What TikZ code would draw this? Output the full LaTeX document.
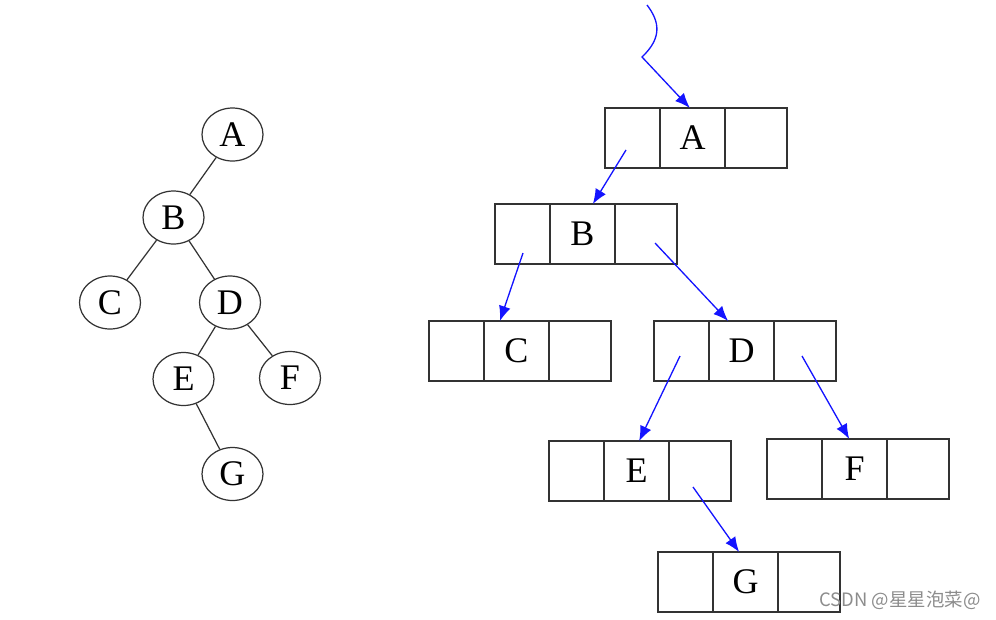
\documentclass[tikz,border=0pt]{standalone}
\usepackage{fontspec}
\setmainfont{Liberation Serif}
\newfontfamily\cjk{Noto Sans CJK SC}
\usetikzlibrary{positioning,shapes.geometric,arrows.meta}
\colorlet{lcol}{black!80}
\definecolor{colBlue}{RGB}{20,20,255}
\tikzstyle{treenode}=[ellipse, draw=lcol, line width=0.7pt, minimum width=1.22cm, minimum height=1.06cm, inner sep=0pt, font=\fontsize{20.5}{24}\selectfont]
\tikzstyle{treeedge}=[line width=0.7pt, lcol]
\tikzstyle{cell}=[rectangle, draw=lcol, line width=0.7pt, minimum height=1.2cm, inner sep=0pt, outer sep=0pt, font=\fontsize{20.5}{24}\selectfont]
\tikzstyle{cellL}=[cell, minimum width=1.1cm]
\tikzstyle{cellM}=[cell, minimum width=1.3cm]
\tikzstyle{cellR}=[cell, minimum width=1.24cm]
\tikzstyle{ptr}=[line width=0.75pt, colBlue, -{Latex[length=3mm, width=2.4mm]}]

\begin{document}
\begin{tikzpicture}[x=0.02cm, y=-0.02cm, node distance=0pt]
			\useasboundingbox (0,0) rectangle (996,619);

			% Tree
			\node[treenode] (tA) at (232.5,134.5) {A};
			\node[treenode] (tB) at (173.5,217.5) {B};
			\node[treenode] (tC) at (110,302.5) {C};
			\node[treenode] (tD) at (230,302.5) {D};
			\node[treenode] (tE) at (183.5,379) {E};
			\node[treenode] (tF) at (290,378) {F};
			\node[treenode] (tG) at (232.5,474) {G};
			\draw[treeedge] (tA)--(tB) (tB)--(tC) (tB)--(tD);
			\draw[treeedge] (tD)--(tE) (tD)--(tF) (tE)--(tG);

			% Linked boxes
			\node[cellM] (bA) at (692.5,138) {A};
			\node[cellL, left=of bA] (bAl) {};
			\node[cellR, right=of bA] (bAr) {};
			\node[cellM] (bB) at (582.5,234) {B};
			\node[cellL, left=of bB] (bBl) {};
			\node[cellR, right=of bB] (bBr) {};
			\node[cellM] (bC) at (516.5,351) {C};
			\node[cellL, left=of bC] (bCl) {};
			\node[cellR, right=of bC] (bCr) {};
			\node[cellM] (bD) at (741.5,351) {D};
			\node[cellL, left=of bD] (bDl) {};
			\node[cellR, right=of bD] (bDr) {};
			\node[cellM] (bE) at (636.5,471) {E};
			\node[cellL, left=of bE] (bEl) {};
			\node[cellR, right=of bE] (bEr) {};
			\node[cellM] (bF) at (854.5,469) {F};
			\node[cellL, left=of bF] (bFl) {};
			\node[cellR, right=of bF] (bFr) {};
			\node[cellM] (bG) at (745.5,582) {G};
			\node[cellL, left=of bG] (bGl) {};
			\node[cellR, right=of bG] (bGr) {};

			% Pointers
			\coordinate (root) at (647,5);
			\coordinate (sA) at (626,150);
			\coordinate (sBl) at (523,253);
			\coordinate (sBr) at (655,243);
			\coordinate (sDl) at (680,356);
			\coordinate (sDr) at (802,356);
			\coordinate (sEr) at (693,487);
			\draw[ptr] (root) .. controls (660,22) and (662,38) .. (642,57) -- (bA.95);
			\draw[ptr] (sA)--(bB.71);
			\draw[ptr] (sBl)--(bC.119);
			\draw[ptr] (sBr)--(bD.114);
			\draw[ptr] (sDl)--(bE.85);
			\draw[ptr] (sDr)--(bF.100);
			\draw[ptr] (sEr)--(bG.102);

			\node[text=black!45, font=\cjk\fontsize{10.5}{12}\selectfont] (wm) at (900,600) {CSDN @星星泡菜@};
		\end{tikzpicture}
\end{document}
